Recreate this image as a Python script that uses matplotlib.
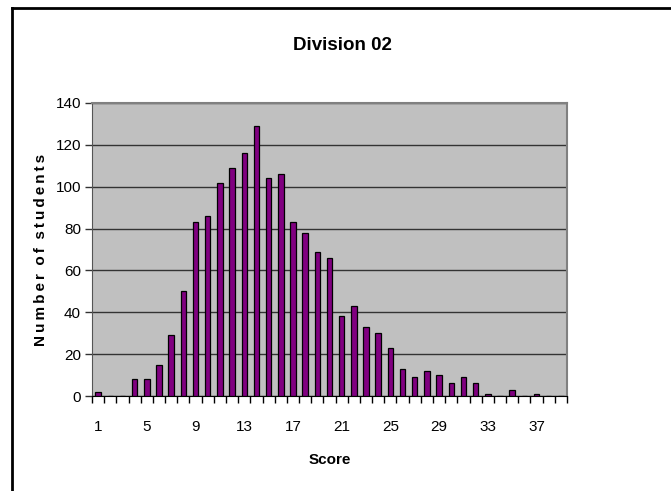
import matplotlib
matplotlib.use("Agg")
import matplotlib.pyplot as plt
from matplotlib.lines import Line2D
import numpy as np

scores = list(range(1, 40))
students = [2, 0, 0, 8, 8, 15, 29, 50, 83, 86, 102, 109, 116, 129, 104, 106,
            83, 78, 69, 66, 38, 43, 33, 30, 23, 13, 9, 12, 10, 6, 9, 6, 1, 0,
            3, 0, 1, 0, 0]
tick_labels = [str(s) for s in scores]
yticks = [0, 20, 40, 60, 80, 100, 120, 140]

narrow = ['Liberation Sans Narrow', 'Liberation Sans', 'DejaVu Sans']
plt.rcParams['font.family'] = narrow

fig = plt.figure(figsize=(6.71, 4.91), dpi=100)
ax = fig.add_axes([92/671, 1-396/491, (567-92)/671, (396-103)/491])
ax.set_facecolor('#c0c0c0')

x = np.arange(len(scores))
ax.bar(x, students, width=0.45, color='#800080', edgecolor='black', linewidth=0.9, zorder=3)

ax.set_xlim(-0.5, len(scores) - 0.5)
ax.set_ylim(0, 140)
ax.set_yticks(yticks)
ax.set_yticklabels([str(v) for v in yticks], fontsize=11)
ax.yaxis.grid(True, color='#333333', linewidth=1.0, zorder=1)
ax.set_axisbelow(True)

ax.set_xticks(x[::4])
ax.set_xticklabels(tick_labels[::4], fontsize=11)
ax.set_xticks(np.arange(-0.5, len(scores), 1.0), minor=True)
ax.tick_params(axis='x', which='major', length=0, pad=17)
ax.tick_params(axis='x', which='minor', length=5, width=1, color='black', direction='out')
ax.tick_params(axis='y', length=5, width=1, color='#333333', pad=3)

for side in ['top', 'right']:
    ax.spines[side].set_color('#808080')
    ax.spines[side].set_linewidth(1.5)
ax.spines['left'].set_color('#555555')
ax.spines['bottom'].set_color('black')

ylabel = '\u2009'.join('Number') + '  ' + '\u2009'.join('of') + '  ' + '\u2009'.join('students')
ax.set_ylabel(ylabel, fontsize=11, fontweight='bold',
              family=['Liberation Sans', 'DejaVu Sans'], labelpad=5)
ax.set_xlabel('Score', fontsize=11, fontweight='bold', labelpad=14)
fig.text(342/671, 1-46/491, 'Division 02', ha='center', va='center',
         fontsize=13.5, fontweight='bold')

fig.add_artist(Line2D([12/671, 1], [1-8/491, 1-8/491], color='black', linewidth=2,
                      transform=fig.transFigure))
fig.add_artist(Line2D([12/671, 12/671], [0, 1-8/491], color='black', linewidth=2,
                      transform=fig.transFigure))

fig.savefig('out.png', dpi=100)
